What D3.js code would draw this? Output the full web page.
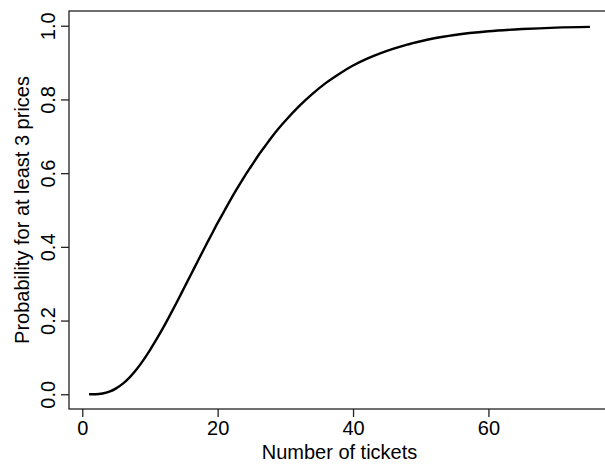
<!DOCTYPE html>
<html><head><meta charset="utf-8">
<script src="https://cdn.jsdelivr.net/npm/d3@7"></script>
<style>body{margin:0;background:#fff;overflow:hidden} text{font-family:"Liberation Sans",Arial,Helvetica,sans-serif;fill:#000}</style>
</head><body><svg id="c" width="605" height="465"></svg>
<script>
// Data
const tickets = [1,2,3,4,5,6,7,8,9,10,11,12,13,14,15,16,17,18,19,20,21,22,23,24,25,26,27,28,29,30,32,34,36,38,40,42,44,46,48,50,52,55,60,65,70,75];
const probability = [0.000,0.000,0.002,0.007,0.016,0.029,0.046,0.067,0.092,0.120,0.150,0.182,0.216,0.251,0.287,0.323,0.359,0.395,0.430,0.465,0.498,0.531,0.562,0.592,0.620,0.648,0.673,0.698,0.721,0.742,0.781,0.815,0.845,0.870,0.892,0.910,0.925,0.938,0.949,0.958,0.966,0.975,0.985,0.991,0.995,0.997];
const xTicks = [0,20,40,60];
const yTicks = [0,0.2,0.4,0.6,0.8,1.0];
const xLabel = "Number of tickets";
const yLabel = "Probability for at least 3 prices";

const svg = d3.select("#c");
const L = 69, T = 11, R = 610, B = 409;
const x = d3.scaleLinear().domain([-1.96, 77.96]).range([L, R]);
const y = d3.scaleLinear().domain([-0.04, 1.04]).range([B, T]);
const fs = 20;

// box
svg.append("rect").attr("x", L).attr("y", T).attr("width", R - L).attr("height", B - T)
  .attr("fill", "none").attr("stroke", "#222").attr("stroke-width", 1.3);

// x axis
const gx = svg.append("g").attr("transform", `translate(0,${B})`)
  .call(d3.axisBottom(x).tickValues(xTicks).tickSize(8).tickPadding(4).tickFormat(d3.format("d")));
gx.select(".domain").remove();
gx.selectAll("line").attr("stroke", "#222").attr("stroke-width", 1.3);
gx.selectAll("text").attr("font-size", fs).attr("font-family", null);

// y axis
const gy = svg.append("g").attr("transform", `translate(${L},0)`)
  .call(d3.axisLeft(y).tickValues(yTicks).tickSize(8).tickFormat(d3.format(".1f")));
gy.select(".domain").remove();
gy.selectAll("line").attr("stroke", "#222").attr("stroke-width", 1.3);
gy.selectAll("text").attr("font-size", fs).attr("font-family", null)
  .attr("transform", "rotate(-90)").attr("x", 0).attr("y", -14).attr("dy", 0)
  .attr("text-anchor", "middle");

// curve
const pts = tickets.map((t, i) => [t, probability[i]]);
svg.append("path").datum(pts)
  .attr("fill", "none").attr("stroke", "#000").attr("stroke-width", 2.4)
  .attr("d", d3.line().x(d => x(d[0])).y(d => y(d[1])).curve(d3.curveMonotoneX));

// labels
svg.append("text").attr("x", (L + R) / 2).attr("y", 459).attr("text-anchor", "middle")
  .attr("font-size", fs).text(xLabel);
svg.append("text").attr("transform", `translate(29,${(T + B) / 2}) rotate(-90)`)
  .attr("text-anchor", "middle").attr("font-size", fs).text(yLabel);
</script></body></html>
